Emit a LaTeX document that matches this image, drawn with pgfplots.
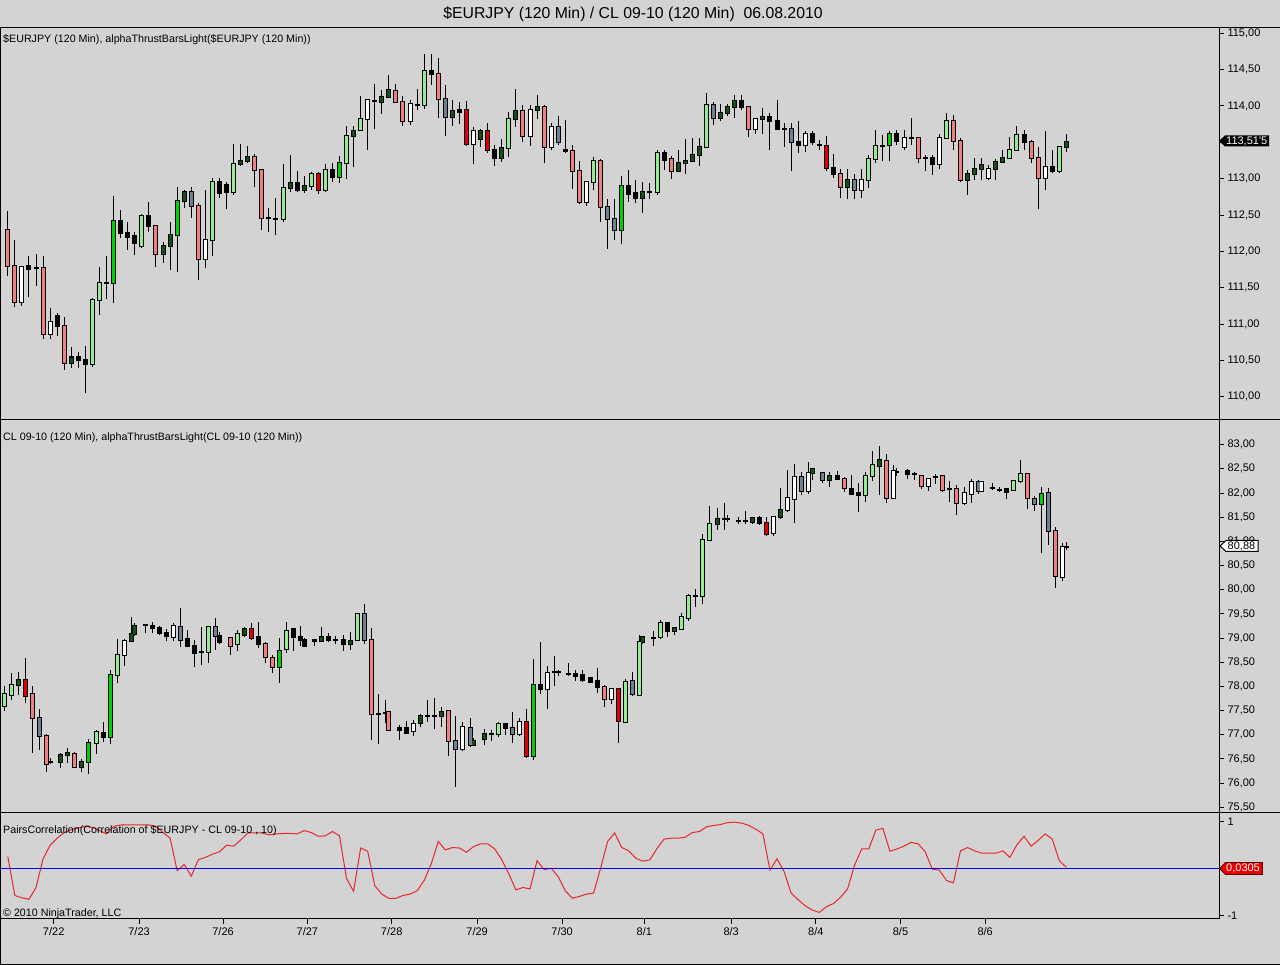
\documentclass[border=0pt]{standalone}
\usepackage{pgfplots}
\pgfplotsset{compat=1.18}
\usepackage{pgfplotstable}
\usepackage{fontspec}
\setmainfont{Liberation Sans}
\newfontfamily\plainfont{Liberation Sans}
\definecolor{bg}{RGB}{211,211,211}
\definecolor{cS}{RGB}{240,128,128}
\definecolor{cW}{RGB}{255,255,255}
\definecolor{cLG}{RGB}{144,238,144}
\definecolor{cDG}{RGB}{20,80,20}
\definecolor{cG}{RGB}{112,128,144}
\definecolor{cR}{RGB}{220,0,0}
\definecolor{cL}{RGB}{0,210,0}
\definecolor{corrred}{RGB}{232,40,40}
\definecolor{zblue}{RGB}{0,0,255}
\definecolor{mkred}{RGB}{230,0,0}

% EURJPY 120 min: x = bar index, bb/bt = body bottom/top, l/h = low/high
\pgfplotstableread{
x bb bt l h
0 111.80 112.29 111.66 112.56
1 111.31 111.80 111.23 112.15
2 111.31 111.79 111.25 111.80
3 111.76 111.80 111.37 111.93
4 111.77 111.77 111.52 111.97
5 110.86 111.77 110.80 111.93
6 110.86 111.03 110.80 111.22
7 110.97 111.11 110.83 111.15
8 110.47 110.97 110.37 111.10
9 110.47 110.54 110.40 110.69
10 110.50 110.54 110.40 110.62
11 110.45 110.51 110.05 110.70
12 110.45 111.33 110.41 111.36
13 111.33 111.57 111.13 111.79
14 111.57 111.57 111.35 111.94
15 111.57 112.42 111.29 112.76
16 112.25 112.42 112.19 112.57
17 112.20 112.25 112.02 112.41
18 112.11 112.21 111.95 112.27
19 112.07 112.48 112.04 112.52
20 112.35 112.48 112.26 112.68
21 111.96 112.35 111.79 112.36
22 111.96 112.07 111.84 112.13
23 112.07 112.22 111.74 112.41
24 112.22 112.69 111.71 112.88
25 112.69 112.81 112.59 112.84
26 112.62 112.81 112.46 112.89
27 111.89 112.62 111.60 112.66
28 111.89 112.16 111.77 112.85
29 112.16 112.95 111.93 113.01
30 112.80 112.95 112.74 113.01
31 112.82 112.91 112.58 112.96
32 112.82 113.20 112.78 113.48
33 113.20 113.25 113.17 113.48
34 113.25 113.30 113.21 113.45
35 113.12 113.30 112.89 113.34
36 112.46 113.12 112.29 113.14
37 112.46 112.46 112.27 112.59
38 112.45 112.45 112.22 112.73
39 112.44 112.87 112.41 113.20
40 112.87 112.94 112.82 113.33
41 112.85 112.94 112.82 113.11
42 112.84 112.90 112.80 113.04
43 112.90 113.07 112.85 113.09
44 112.85 113.07 112.79 113.09
45 112.85 113.12 112.82 113.20
46 113.03 113.12 112.95 113.21
47 113.03 113.21 112.94 113.31
48 113.21 113.59 113.00 113.73
49 113.59 113.66 113.16 113.73
50 113.67 113.82 113.65 114.14
51 113.82 114.08 113.39 114.09
52 114.07 114.07 113.68 114.30
53 114.06 114.12 113.89 114.22
54 114.12 114.22 114.11 114.43
55 114.05 114.20 114.05 114.30
56 113.80 114.05 113.73 114.14
57 113.80 114.03 113.74 114.08
58 114.02 114.02 113.94 114.24
59 114.01 114.48 113.96 114.72
60 114.44 114.48 114.29 114.72
61 114.09 114.44 113.83 114.66
62 113.85 114.09 113.59 114.29
63 113.85 113.93 113.72 114.08
64 113.92 113.95 113.75 114.05
65 113.48 113.95 113.45 114.07
66 113.48 113.65 113.20 113.71
67 113.55 113.65 113.43 113.68
68 113.40 113.65 113.36 113.77
69 113.29 113.40 113.17 113.46
70 113.29 113.42 113.23 113.55
71 113.42 113.82 113.30 113.92
72 113.82 113.93 113.71 114.23
73 113.59 113.93 113.51 114.01
74 113.59 113.95 113.45 114.01
75 113.95 113.98 113.82 114.15
76 113.44 113.98 113.21 114.01
77 113.44 113.71 113.39 113.76
78 113.50 113.71 113.47 113.86
79 113.38 113.40 113.36 113.81
80 113.11 113.38 112.86 113.46
81 112.68 113.11 112.65 113.24
82 112.68 112.95 112.63 112.97
83 112.95 113.25 112.84 113.30
84 112.61 113.25 112.40 113.27
85 112.45 112.61 112.03 112.72
86 112.29 112.45 112.16 112.72
87 112.29 112.90 112.10 113.04
88 112.79 112.90 112.68 113.12
89 112.73 112.80 112.66 112.98
90 112.73 112.81 112.53 112.95
91 112.81 112.81 112.72 112.94
92 112.81 113.36 112.78 113.39
93 113.26 113.36 113.12 113.39
94 113.11 113.27 113.00 113.31
95 113.11 113.21 113.10 113.39
96 113.21 113.25 113.06 113.55
97 113.25 113.33 113.23 113.56
98 113.33 113.43 113.17 113.56
99 113.43 114.02 113.43 114.18
100 113.84 114.02 113.74 114.05
101 113.84 113.91 113.79 114.03
102 113.91 113.99 113.86 114.03
103 113.99 114.07 113.84 114.15
104 113.98 114.07 113.95 114.15
105 113.68 113.98 113.57 113.99
106 113.68 113.82 113.62 113.84
107 113.82 113.85 113.62 113.97
108 113.79 113.85 113.39 113.90
109 113.69 113.79 113.67 114.08
110 113.69 113.69 113.44 113.76
111 113.51 113.69 113.10 113.76
112 113.47 113.51 113.36 113.79
113 113.47 113.61 113.37 113.65
114 113.50 113.61 113.46 113.65
115 113.46 113.46 113.39 113.53
116 113.15 113.45 113.10 113.59
117 113.07 113.15 113.01 113.34
118 112.88 113.07 112.73 113.13
119 112.88 112.98 112.72 113.13
120 112.85 112.98 112.72 113.07
121 112.85 112.98 112.73 113.13
122 112.98 113.27 112.87 113.33
123 113.27 113.45 113.21 113.67
124 113.45 113.45 113.24 113.60
125 113.46 113.62 113.24 113.65
126 113.52 113.62 113.46 113.67
127 113.43 113.56 113.40 113.67
128 113.56 113.56 113.46 113.83
129 113.28 113.56 113.21 113.58
130 113.29 113.29 113.11 113.33
131 113.20 113.29 113.05 113.33
132 113.20 113.56 113.13 113.62
133 113.56 113.80 113.54 113.90
134 113.52 113.80 113.40 113.88
135 112.98 113.52 112.96 113.56
136 112.98 113.07 112.78 113.12
137 113.07 113.13 112.98 113.28
138 113.13 113.19 112.98 113.28
139 113.01 113.14 112.98 113.19
140 113.14 113.23 112.98 113.27
141 113.23 113.28 113.22 113.39
142 113.28 113.40 113.27 113.58
143 113.40 113.60 113.40 113.72
144 113.51 113.60 113.40 113.67
145 113.28 113.51 113.21 113.53
146 113.01 113.28 112.58 113.44
147 113.01 113.16 112.85 113.66
148 113.10 113.16 113.08 113.39
149 113.10 113.43 113.08 113.44
150 113.43 113.51 113.37 113.62
}\topdata
% EURJPY body colours (x bb bt)
\pgfplotstableread{
x bb bt
0 111.80 112.29
1 111.31 111.80
5 110.86 111.77
8 110.47 110.97
21 111.96 112.35
27 111.89 112.62
35 113.12 113.30
36 112.46 113.12
55 114.05 114.20
56 113.80 114.05
61 114.09 114.44
73 113.59 113.93
76 113.44 113.98
80 113.11 113.38
81 112.68 113.11
84 112.61 113.25
94 113.11 113.27
105 113.68 113.98
118 112.88 113.07
129 113.28 113.56
134 113.52 113.80
135 112.98 113.52
145 113.28 113.51
146 113.01 113.28
}\topS
\pgfplotstableread{
x bb bt
2 111.31 111.79
6 110.86 111.03
28 111.89 112.16
51 113.82 114.08
57 113.80 114.03
66 113.48 113.65
74 113.59 113.95
77 113.44 113.71
82 112.68 112.95
106 113.68 113.82
113 113.47 113.61
121 112.85 112.98
127 113.43 113.56
132 113.20 113.56
139 113.01 113.14
147 113.01 113.16
}\topW
\pgfplotstableread{
x bb bt
12 110.45 111.33
13 111.33 111.57
19 112.07 112.48
29 112.16 112.95
32 112.82 113.20
39 112.44 112.87
43 112.90 113.07
45 112.85 113.12
48 113.21 113.59
50 113.67 113.82
59 114.01 114.48
71 113.42 113.82
83 112.95 113.25
92 112.81 113.36
99 113.43 114.02
122 112.98 113.27
123 113.27 113.45
133 113.56 113.80
142 113.28 113.40
143 113.40 113.60
149 113.10 113.43
}\topLG
\pgfplotstableread{
x bb bt
9 110.47 110.54
22 111.96 112.07
23 112.07 112.22
25 112.69 112.81
33 113.20 113.25
34 113.25 113.30
40 112.87 112.94
42 112.84 112.90
49 113.59 113.66
53 114.06 114.12
54 114.12 114.22
63 113.85 113.93
67 113.55 113.65
70 113.29 113.42
72 113.82 113.93
75 113.95 113.98
90 112.73 112.81
95 113.11 113.21
96 113.21 113.25
97 113.25 113.33
98 113.33 113.43
101 113.84 113.91
102 113.91 113.99
103 113.99 114.07
107 113.82 113.85
119 112.88 112.98
136 112.98 113.07
137 113.07 113.13
138 113.13 113.19
140 113.14 113.23
141 113.23 113.28
150 113.43 113.51
}\topDG
\pgfplotstableread{
x bb bt
26 112.62 112.81
62 113.85 114.09
78 113.50 113.71
85 112.45 112.61
86 112.29 112.45
100 113.84 114.02
111 113.51 113.69
120 112.85 112.98
}\topG
\pgfplotstableread{
x bb bt
44 112.85 113.07
65 113.48 113.95
68 113.40 113.65
116 113.15 113.45
}\topR
\pgfplotstableread{
x bb bt
15 111.57 112.42
24 112.22 112.69
47 113.03 113.21
87 112.29 112.90
125 113.46 113.62
}\topL

% CL 09-10 120 min
\pgfplotstableread{
x bb bt l h
-0.5 77.60 77.84 77.50 78.00
0.5 77.83 78.02 77.71 78.27
1.5 78.02 78.13 77.83 78.30
2.5 77.81 78.13 77.65 78.59
3.5 77.34 77.84 76.62 78.00
4.5 76.98 77.34 76.69 77.53
5.5 76.40 76.98 76.22 77.02
6 76.43 76.43 76.39 76.53
7.5 76.44 76.58 76.32 76.62
8.5 76.58 76.62 76.42 76.72
9.5 76.33 76.60 76.32 76.64
10.5 76.33 76.43 76.24 76.49
11.5 76.43 76.84 76.18 76.91
12.5 76.84 77.05 76.60 77.09
13.5 76.95 77.03 76.85 77.27
14.5 76.95 78.23 76.80 78.35
15.5 78.23 78.66 78.08 78.98
16.5 78.66 78.94 78.42 78.98
17.5 78.94 79.08 78.91 79.43
18 79.08 79.25 79.05 79.31
19.5 79.28 79.28 79.10 79.29
20.5 79.20 79.25 79.10 79.34
21.5 79.10 79.21 79.06 79.24
22.5 79.04 79.11 78.93 79.18
23.5 79.02 79.24 78.93 79.32
24.5 78.97 79.22 78.81 79.62
25.5 78.84 78.98 78.81 79.17
26.5 78.70 78.84 78.41 78.96
27.5 78.72 78.72 78.44 79.22
28.5 78.72 79.22 78.48 79.25
29.5 79.05 79.22 78.75 79.41
30 78.91 79.05 78.87 79.13
31.5 78.84 79.00 78.66 79.03
32.5 78.87 79.09 78.74 79.17
33.5 79.06 79.18 79.03 79.22
34.5 79.00 79.18 78.96 79.31
35.5 78.87 79.02 78.80 79.33
36.5 78.60 78.87 78.48 78.91
37.5 78.41 78.58 78.27 78.65
38.5 78.41 78.74 78.08 79.00
39.5 78.77 79.15 78.69 79.34
40.5 79.03 79.18 78.74 79.18
41.5 78.95 79.03 78.84 79.26
42 78.84 78.97 78.84 79.00
43.5 78.93 78.97 78.84 78.97
44.5 78.93 79.03 78.91 79.22
45.5 78.95 79.03 78.91 79.10
46.5 78.95 78.95 78.87 79.04
47.5 78.87 78.96 78.74 79.06
48.5 78.87 78.94 78.75 79.13
49.5 78.95 79.50 78.93 79.52
50.5 78.96 79.50 78.87 79.71
51.5 77.42 78.96 76.89 79.20
52.5 77.43 77.43 76.81 77.84
53.5 77.46 77.46 77.25 77.72
54 77.09 77.47 77.07 77.48
55.5 77.10 77.15 76.89 77.20
56.5 77.04 77.14 77.04 77.29
57.5 77.07 77.22 76.98 77.31
58.5 77.24 77.39 77.17 77.43
59.5 77.38 77.38 77.27 77.72
60.5 77.38 77.38 77.11 77.77
61.5 77.38 77.48 77.17 77.58
62.5 76.88 77.49 76.57 77.51
63.5 76.70 76.88 75.93 77.38
64.5 76.70 77.17 76.66 77.27
65.5 76.79 77.15 76.75 77.35
66 76.78 76.87 76.77 76.93
67.5 76.91 77.01 76.79 77.11
68.5 77.01 77.01 76.88 77.10
69.5 77.01 77.22 76.96 77.26
70.5 77.15 77.22 77.00 77.22
71.5 77.01 77.15 76.84 77.47
72.5 77.01 77.26 76.98 77.34
73.5 76.57 77.26 76.53 77.53
74.5 76.56 78.02 76.47 78.57
75.5 77.94 78.02 77.84 78.91
76.5 77.94 78.27 77.54 78.42
77.5 78.30 78.30 78.00 78.62
78 78.29 78.29 78.22 78.34
79.5 78.26 78.26 78.22 78.48
80.5 78.22 78.25 78.12 78.34
81.5 78.13 78.23 78.10 78.34
82.5 78.10 78.18 78.09 78.20
83.5 77.98 78.11 77.86 78.38
84.5 77.73 77.99 77.58 78.03
85.5 77.73 77.94 77.63 77.96
86.5 77.29 77.95 76.84 77.96
87.5 77.27 78.09 77.26 78.16
88.5 77.84 78.11 77.80 78.30
89.5 77.82 78.91 77.81 79.06
90 78.91 79.02 78.87 79.03
91.5 79.00 79.00 78.84 79.15
92.5 79.03 79.31 78.98 79.37
93.5 79.15 79.31 79.03 79.33
94.5 79.15 79.20 79.06 79.22
95.5 79.19 79.43 79.17 79.51
96.5 79.41 79.87 79.36 79.91
97.5 79.88 79.88 79.65 80.01
98.5 79.86 81.03 79.71 81.15
99.5 81.03 81.35 81.01 81.73
100.5 81.35 81.46 81.24 81.68
101.5 81.46 81.46 81.24 81.80
102 81.46 81.46 81.41 81.55
103.5 81.43 81.43 81.36 81.50
104.5 81.43 81.43 81.36 81.62
105.5 81.41 81.48 81.35 81.50
106.5 81.39 81.48 81.34 81.53
107.5 81.15 81.39 81.12 81.51
108.5 81.18 81.51 81.11 81.53
109.5 81.51 81.64 81.46 82.10
110.5 81.64 81.89 81.61 82.48
111.5 81.88 82.33 81.39 82.60
112.5 82.05 82.33 81.96 82.43
113.5 82.05 82.41 81.99 82.65
114 82.41 82.49 82.27 82.51
115.5 82.27 82.42 82.20 82.44
116.5 82.26 82.36 82.13 82.44
117.5 82.30 82.36 82.27 82.46
118.5 82.10 82.30 82.03 82.34
119.5 81.99 82.08 81.98 82.37
120.5 81.96 82.01 81.61 82.20
121.5 81.95 82.35 81.82 82.44
122.5 82.35 82.58 82.24 82.87
123.5 82.55 82.68 81.95 82.97
124.5 81.90 82.66 81.79 82.81
125.5 81.90 82.46 81.89 82.58
126 82.44 82.44 82.36 82.51
127.5 82.39 82.46 82.28 82.49
128.5 82.39 82.39 82.27 82.44
129.5 82.15 82.36 82.08 82.37
130.5 82.15 82.30 82.05 82.32
131.5 82.34 82.34 82.19 82.39
132.5 82.06 82.35 82.03 82.37
133.5 82.08 82.08 81.82 82.24
134.5 81.79 82.08 81.55 82.17
135.5 81.80 82.01 81.75 82.13
136.5 81.99 82.22 81.80 82.30
137.5 82.05 82.22 81.98 82.26
138 82.05 82.22 82.03 82.24
139.5 82.11 82.11 82.06 82.20
140.5 82.06 82.06 82.03 82.12
141.5 82.03 82.08 81.88 82.11
142.5 82.06 82.24 82.05 82.27
143.5 82.24 82.39 82.20 82.68
144.5 81.89 82.39 81.67 82.42
145.5 81.77 81.87 81.63 81.94
146.5 81.77 81.99 80.75 82.13
147.5 81.22 82.01 80.93 82.10
148.5 80.29 81.21 80.04 81.29
149.5 80.27 80.88 80.19 80.97
150 80.88 80.88 80.82 80.98
}\cldata
% CL body colours (x bb bt)
\pgfplotstableread{
x bb bt
3.5 77.34 77.84
5.5 76.40 76.98
9.5 76.33 76.60
31.5 78.84 79.00
36.5 78.60 78.87
37.5 78.41 78.58
51.5 77.42 78.96
54 77.09 77.47
62.5 76.88 77.49
84.5 77.73 77.99
118.5 82.10 82.30
124.5 81.90 82.66
129.5 82.15 82.36
132.5 82.06 82.35
134.5 81.79 82.08
144.5 81.89 82.39
148.5 80.29 81.21
}\clS
\pgfplotstableread{
x bb bt
16.5 78.66 78.94
23.5 79.02 79.24
57.5 77.07 77.22
64.5 76.70 77.17
72.5 77.01 77.26
76.5 77.94 78.27
85.5 77.73 77.94
108.5 81.18 81.51
110.5 81.64 81.89
111.5 81.88 82.33
113.5 82.05 82.41
125.5 81.90 82.46
130.5 82.15 82.30
135.5 81.80 82.01
136.5 81.99 82.22
138 82.05 82.22
149.5 80.27 80.88
}\clW
\pgfplotstableread{
x bb bt
-0.5 77.60 77.84
0.5 77.83 78.02
12.5 76.84 77.05
15.5 78.23 78.66
28.5 78.72 79.22
32.5 78.87 79.09
39.5 78.77 79.15
49.5 78.95 79.50
69.5 77.01 77.22
87.5 77.27 78.09
89.5 77.82 78.91
92.5 79.03 79.31
95.5 79.19 79.43
96.5 79.41 79.87
98.5 79.86 81.03
99.5 81.03 81.35
121.5 81.95 82.35
122.5 82.35 82.58
142.5 82.06 82.24
143.5 82.24 82.39
}\clLG
\pgfplotstableread{
x bb bt
1.5 78.02 78.13
7.5 76.44 76.58
8.5 76.58 76.62
10.5 76.33 76.43
17.5 78.94 79.08
18 79.08 79.25
33.5 79.06 79.18
44.5 78.93 79.03
48.5 78.87 78.94
58.5 77.24 77.39
61.5 77.38 77.48
66 76.78 76.87
67.5 76.91 77.01
90 78.91 79.02
94.5 79.15 79.20
100.5 81.35 81.46
105.5 81.41 81.48
109.5 81.51 81.64
114 82.41 82.49
116.5 82.26 82.36
123.5 82.55 82.68
}\clDG
\pgfplotstableread{
x bb bt
4.5 76.98 77.34
24.5 78.97 79.22
29.5 79.05 79.22
50.5 78.96 79.50
63.5 76.70 76.88
65.5 76.79 77.15
71.5 77.01 77.15
88.5 77.84 78.11
112.5 82.05 82.33
115.5 82.27 82.42
137.5 82.05 82.22
145.5 81.77 81.87
147.5 81.22 82.01
}\clG
\pgfplotstableread{
x bb bt
2.5 77.81 78.13
34.5 79.00 79.18
73.5 76.57 77.26
86.5 77.29 77.95
107.5 81.15 81.39
}\clR
\pgfplotstableread{
x bb bt
11.5 76.43 76.84
14.5 76.95 78.23
38.5 78.41 78.74
74.5 76.56 78.02
146.5 81.77 81.99
}\clL

% PairsCorrelation
\pgfplotstableread{
x r
0 0.26
1 -0.57
2 -0.62
3 -0.65
4 -0.40
5 0.21
6 0.50
7 0.65
8 0.77
9 0.83
10 0.87
11 0.90
12 0.88
13 0.81
14 0.74
15 0.90
16 0.93
17 0.93
18 0.93
19 0.93
20 0.93
21 0.90
22 0.77
23 0.65
24 -0.04
25 0.09
26 -0.16
27 0.19
28 0.24
29 0.31
30 0.36
31 0.50
32 0.48
33 0.61
34 0.76
35 0.76
36 0.76
37 0.72
38 0.74
39 0.75
40 0.75
41 0.74
42 0.81
43 0.77
44 0.69
45 0.70
46 0.79
47 0.70
48 -0.21
49 -0.48
50 0.44
51 0.37
52 -0.36
53 -0.54
54 -0.63
55 -0.63
56 -0.57
57 -0.54
58 -0.47
59 -0.25
60 0.10
61 0.58
62 0.40
63 0.45
64 0.44
65 0.35
66 0.47
67 0.53
68 0.53
69 0.42
70 0.19
71 -0.11
72 -0.45
73 -0.40
74 -0.43
75 0.17
76 -0.02
77 0.01
78 -0.17
79 -0.47
80 -0.63
81 -0.59
82 -0.54
83 -0.52
84 0.01
85 0.58
86 0.76
87 0.45
88 0.38
89 0.22
90 0.16
91 0.19
92 0.43
93 0.63
94 0.65
95 0.65
96 0.67
97 0.77
98 0.79
99 0.89
100 0.92
101 0.94
102 0.98
103 0.99
104 0.97
105 0.92
106 0.84
107 0.74
108 -0.03
109 0.21
110 -0.06
111 -0.52
112 -0.66
113 -0.79
114 -0.88
115 -0.93
116 -0.81
117 -0.74
118 -0.61
119 -0.43
120 0.08
121 0.42
122 0.42
123 0.82
124 0.86
125 0.37
126 0.42
127 0.48
128 0.56
129 0.53
130 0.36
131 -0.01
132 -0.03
133 -0.25
134 -0.30
135 0.38
136 0.45
137 0.38
138 0.33
139 0.33
140 0.33
141 0.38
142 0.24
143 0.51
144 0.69
145 0.48
146 0.60
147 0.74
148 0.63
149 0.17
150 0.0305
}\corrdata
% zero reference level of the correlation panel
\pgfplotstableread{
x r
-1.034 0
171.63 0
}\zerodata

\pgfplotsset{
  panel/.style={scale only axis, width=1218.5pt, xmin=-1.034, xmax=171.63,
    axis background/.style={fill=bg},
    axis line style={black, line width=1pt},
    xtick=\empty, ytick pos=right, yticklabel pos=right, tick align=outside,
    major tick length=5pt, tick style={black, line width=1pt},
    ticklabel style={font=\fontsize{11}{13}\selectfont},
    /pgf/number format/assume math mode=true,
    yticklabel={\pgfmathprintnumber[fixed, fixed zerofill, precision=2, use comma]{\tick}}},
}
\newcommand\wicks[1]{%
  \addplot[draw=none, mark=none, error bars/.cd, y dir=plus, y explicit, error mark=none,
    error bar style={draw=black, solid, line width=1pt}]
    table[x=x, y=l, y error plus expr=\thisrow{h}-\thisrow{l}] {#1};}
\newcommand\outlines[2]{%
  \addplot[draw=none, mark=none, error bars/.cd, y dir=plus, y explicit, error mark=none,
    error bar style={draw=black, solid, line width=5pt}]
    table[x=x, y expr=\thisrow{bb}-#2, y error plus expr=\thisrow{bt}-\thisrow{bb}+2*#2] {#1};}
\newcommand\bodies[2]{%
  \addplot[draw=none, mark=none, error bars/.cd, y dir=plus, y explicit, error mark=none,
    error bar style={draw=#2, solid, line width=3pt}]
    table[x=x, y=bb, y error plus expr=\thisrow{bt}-\thisrow{bb}] {#1};}

\begin{document}
\begin{tikzpicture}[x=1pt,y=1pt]
\fill[bg] (0,0) rectangle (1280,965);
\useasboundingbox (0,0) rectangle (1280,965);

% ---- EURJPY panel
\begin{axis}[panel, at={(0.5pt,545.7pt)}, anchor=south west, height=391.8pt,
  ymin=109.690, ymax=115.080, ytick={110,110.5,...,115}]
  \wicks{\topdata}
  \outlines{\topdata}{0.0138}
  \bodies{\topS}{cS}\bodies{\topW}{cW}\bodies{\topLG}{cLG}\bodies{\topDG}{cDG}
  \bodies{\topG}{cG}\bodies{\topR}{cR}\bodies{\topL}{cL}
\end{axis}

% ---- CL panel
\begin{axis}[panel, at={(0.5pt,545.7pt)}, anchor=north west, height=393pt,
  ymin=75.397, ymax=83.525, ytick={75.5,76,...,83}]
  \wicks{\cldata}
  \outlines{\cldata}{0.0207}
  \bodies{\clS}{cS}\bodies{\clW}{cW}\bodies{\clLG}{cLG}\bodies{\clDG}{cDG}
  \bodies{\clG}{cG}\bodies{\clR}{cR}\bodies{\clL}{cL}
\end{axis}

% ---- correlation panel
\begin{axis}[panel, at={(0.5pt,152.7pt)}, anchor=north west, height=106.7pt,
  ymin=-1.07, ymax=1.20, ytick={-1,1}, yticklabels={-1,1},
  xtick={6.5,18.6,30.5,42.45,54.4,66.5,78.55,90.2,102.5,114.5,126.5,138.5},
  xticklabels={7/22,7/23,7/26,7/27,7/28,7/29,7/30,8/1,8/3,8/4,8/5,8/6},
  xtick pos=bottom]
  \addplot[color=corrred, solid, line width=1pt, mark=none] table[x=x, y=r] {\corrdata};
  \addplot[color=zblue, solid, line width=1pt, mark=none] table[x=x, y=r] {\zerodata};
\end{axis}

% last-value markers
\fill[black] (1219,824) -- ++(6,5.5) -- ++(44,0) -- ++(0,-11) -- ++(-44,0) -- cycle;
\node[anchor=west, text=white, inner sep=0pt, font=\plainfont\fontsize{11}{13}\selectfont] at (1226,824) {113,51'5};
\filldraw[fill=white, draw=black, line width=1pt] (1220,419) -- ++(6,5.5) -- ++(32,0) -- ++(0,-11) -- ++(-32,0) -- cycle;
\node[anchor=west, text=black, inner sep=0pt, font=\fontsize{11}{13}\selectfont] at (1227.5,419) {80,88};
\filldraw[fill=mkred, draw=black!60!red, line width=0.8pt] (1219.5,96.5) -- ++(6,6) -- ++(37,0) -- ++(0,-12) -- ++(-37,0) -- cycle;
\node[anchor=west, text=white, inner sep=0pt, font=\fontsize{11}{13}\selectfont] at (1226,96.5) {0,0305};

% frame lines
\draw[black, line width=1pt] (0,937.5) -- (1280,937.5);
\draw[black, line width=1pt] (0,545.7) -- (1280,545.7);
\draw[black, line width=1pt] (0,152.7) -- (1280,152.7);
\draw[black, line width=1pt] (0,0.5) -- (1280,0.5);
\draw[black, line width=1pt] (0.5,0) -- (0.5,937.5);

% texts
\node[anchor=base, font=\fontsize{15.8}{18}\selectfont] at (633,946) {\$EURJPY (120 Min) / CL 09-10 (120 Min)\ \ 06.08.2010};
\node[anchor=base west, inner sep=0pt, font=\fontsize{10.7}{13}\selectfont] at (3,922.5) {\$EURJPY (120 Min), alphaThrustBarsLight(\$EURJPY (120 Min))};
\node[anchor=base west, inner sep=0pt, font=\fontsize{10.7}{13}\selectfont] at (3,524) {CL 09-10 (120 Min), alphaThrustBarsLight(CL 09-10 (120 Min))};
\node[anchor=base west, inner sep=0pt, font=\fontsize{10.7}{13}\selectfont] at (3,131) {PairsCorrelation(Correlation of \$EURJPY - CL 09-10 , 10)};
\node[anchor=base west, inner sep=0pt, font=\fontsize{10.7}{13}\selectfont] at (3,48.5) {© 2010 NinjaTrader, LLC};
\end{tikzpicture}
\end{document}
